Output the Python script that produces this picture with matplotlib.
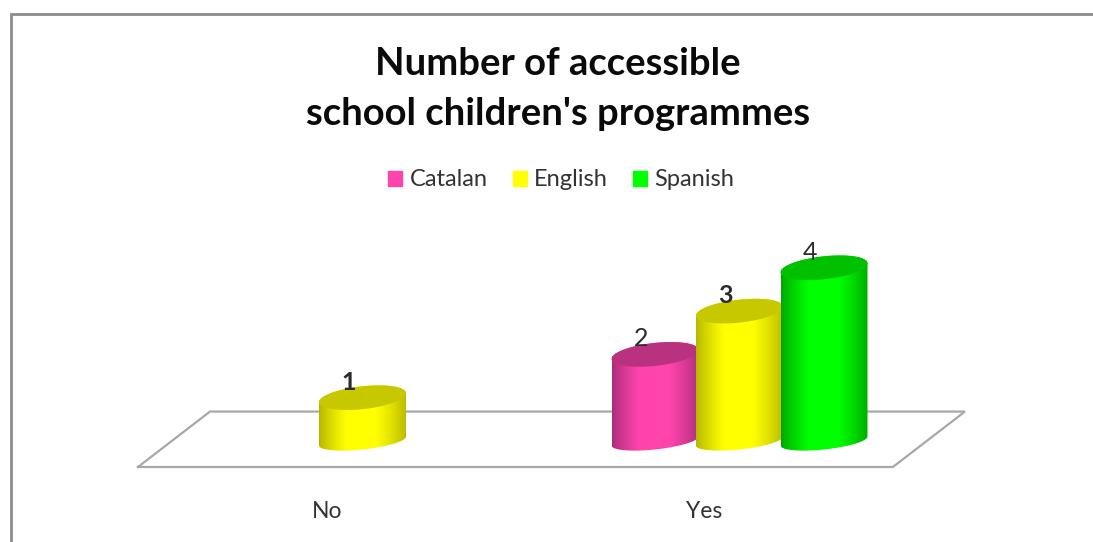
import numpy as np
import matplotlib
matplotlib.use('Agg')
import matplotlib.pyplot as plt
from matplotlib.lines import Line2D
from matplotlib.patches import Patch, Polygon

# chart values
categories = ['No', 'Yes']
series_names = ['Catalan', 'English', 'Spanish']
catalan = [0, 2]
english = [1, 3]
spanish = [0, 4]
series_values = [catalan, english, spanish]
title_text = "Number of accessible\nschool children's programmes"

# bright, dark and lid colour of each cylinder
bright = ['#ff45ad', '#ffff00', '#00ff00']
dark = ['#a82c78', '#b4b400', '#00a400']
lid = ['#b9327f', '#c8c800', '#00c000']

W, H = 1093, 542
plt.rcParams['font.family'] = ['Lato', 'DejaVu Sans']

fig = plt.figure(figsize=(W / 100, H / 100), dpi=100)
ax_bottom_px = 490
ax = fig.add_axes([0, 1 - ax_bottom_px / H, 1, ax_bottom_px / H])

# scale: category spacing and value height in pixels
px_per_cat = 377
px_per_val = 43.3
zero_x_px = 362.5
zero_y_px = 441
xlim = (-zero_x_px / px_per_cat, (W - zero_x_px) / px_per_cat)
ylim = ((zero_y_px - ax_bottom_px) / px_per_val, zero_y_px / px_per_val)

bar_step = 84.5 / px_per_cat
half_w = 43.5 / px_per_cat
lid_h = 11.5 / px_per_val
base_h = 8.5 / px_per_val
tilt = 4.5 / px_per_val


def ellipse(cx, v, t, h):
    return cx + half_w * np.cos(t), v + h * np.sin(t) + tilt * np.cos(t)


def cylinder(cx, v, col_bright, col_dark, col_lid, z):
    # body outline: bottom half of the lower ellipse, then top half of the upper one
    t_low = np.linspace(np.pi, 2 * np.pi, 80)
    t_up = np.linspace(0, np.pi, 80)
    xl, yl = ellipse(cx, 0, t_low, base_h)
    xu, yu = ellipse(cx, v, t_up, lid_h)
    outline = np.column_stack([np.r_[xl, xu], np.r_[yl, yu]])
    clip = Polygon(outline, closed=True, transform=ax.transData, fc='none', ec='none')
    ax.add_patch(clip)

    # horizontal shading across the body
    u = np.linspace(0, 1, 200)
    k = np.interp(u, [0, 0.32, 0.66, 1], [0, 1, 1, 0.05]) ** 0.8
    c0 = np.array(matplotlib.colors.to_rgb(col_dark))
    c1 = np.array(matplotlib.colors.to_rgb(col_bright))
    grad = (c0[None, :] * (1 - k[:, None]) + c1[None, :] * k[:, None])[None, :, :]
    im = ax.imshow(grad, extent=[cx - half_w, cx + half_w, -1, v + 1], aspect='auto',
                   zorder=z, interpolation='bilinear')
    im.set_clip_path(clip)

    t = np.linspace(0, 2 * np.pi, 160)
    xt, yt = ellipse(cx, v, t, lid_h)
    ax.fill(xt, yt, color=col_lid, lw=0, zorder=z + 0.5)


# floor of the 3D plot
floor_x = [-0.5955, -0.4045, 1.598, 1.407, -0.5955]
floor_y = [-0.6, 0.68, 0.68, -0.6, -0.6]
ax.plot(floor_x, floor_y, color='#a8a8a8', lw=1.6, zorder=1, solid_joinstyle='miter')

for c in range(len(categories)):
    for s, values in enumerate(series_values):
        v = values[c]
        if v == 0:
            continue
        cx = c + (s - 1) * bar_step
        cylinder(cx, v, bright[s], dark[s], lid[s], 2 + s + c * 3)
        # 1 and 3 come out heavier than the other labels
        ax.text(cx - 14 / px_per_cat, v + 0.36, str(v), ha='center', va='center',
                fontsize=18, color='#2b2b2b', zorder=20,
                fontweight='bold' if v % 2 else 'normal')

ax.set_xlim(xlim)
ax.set_ylim(ylim)

# category labels sit left of the cylinder groups
ax.set_xticks(np.arange(len(categories)) - 0.095)
ax.set_xticklabels(categories, fontsize=16.5, color='#333333')
ax.tick_params(axis='x', length=0, pad=8)
ax.set_yticks([])
for sp in ax.spines.values():
    sp.set_visible(False)
ax.patch.set_alpha(0)

fig.text(558 / W, 1 - 89 / H, title_text, ha='center', va='center', fontsize=27.5,
         fontweight='bold', color='#0a0a0a', linespacing=1.58)

handles = [Patch(color=b) for b in bright]
fig.legend(handles, series_names, loc='center', bbox_to_anchor=(561 / W, 1 - 180 / H), ncol=3,
           frameon=False, fontsize=17, labelcolor='#333333', handlelength=0.6, handleheight=0.6,
           handletextpad=0.3, columnspacing=1.06)

# chart border
fig.add_artist(Line2D([10.5 / W, 10.5 / W, 1], [0, 1 - 14 / H, 1 - 14 / H], color='#8c8c8c', lw=2,
                      solid_joinstyle='miter'))

fig.savefig('out.png', dpi=100)
